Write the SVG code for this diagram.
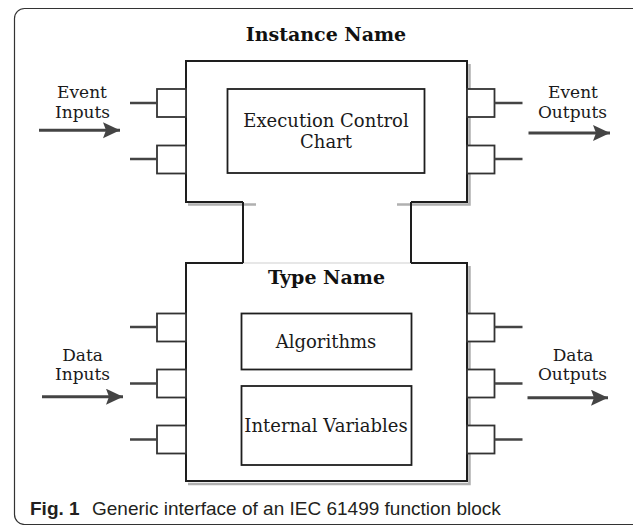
<svg xmlns="http://www.w3.org/2000/svg" width="633" height="525" viewBox="0 0 633 525">
<style>
.frame{fill:none;stroke:#333;stroke-width:1.2}
.blk{fill:none;stroke:#1e1e1e;stroke-width:2;stroke-linejoin:miter}
.shadow{fill:none;stroke:#b0b0b0;stroke-width:2.5}
.faint{fill:none;stroke:#d0d0d0;stroke-width:1.2}
.port{fill:#fff;stroke:#333;stroke-width:1.8}
.stub{fill:none;stroke:#444;stroke-width:2.5}
.box{fill:#fff;stroke:#1e1e1e;stroke-width:1.8}
.arrow{fill:none;stroke:#444;stroke-width:3}
.lbl{font-family:"DejaVu Serif",serif;font-size:17px;fill:#1a1a1a;text-anchor:middle}
.inner{font-family:"DejaVu Serif",serif;font-size:18px;fill:#1a1a1a;text-anchor:middle}
.title{font-family:"DejaVu Serif",serif;font-size:19px;font-weight:bold;fill:#111;text-anchor:middle}
.cap{font-family:"Liberation Sans",Arial,sans-serif;font-size:19px;fill:#231f20}
</style>
<defs>
<marker id="ah" markerUnits="userSpaceOnUse" markerWidth="18" markerHeight="18" refX="17" refY="8" orient="auto">
<path d="M0,0 L17,8 L0,16 L3,8 z" fill="#444"/>
</marker>
</defs>
<rect class="frame" x="14.5" y="8.5" width="640" height="516" rx="10"/>

<g id="instance-block">
<path class="shadow" d="M188,204.5 H256 M397,204.5 H469.5 V64"/>
<path class="blk" d="M243,202 H186 V61 H467 V202 H411"/>
<text class="title" x="326" y="40.5">Instance Name</text>
</g>

<g id="type-block">
<path class="shadow" d="M188,484 H469.5 V266"/>
<path class="faint" d="M243,263 H411"/>
<path class="blk" d="M243,263 H186 V481 H467 V263 H411"/>
<text class="title" x="326.5" y="284">Type Name</text>
</g>

<g id="ecc">
<rect class="box" x="227.5" y="89" width="197" height="84"/>
<text class="inner" x="326" y="126.5">Execution Control</text>
<text class="inner" x="326" y="147.5">Chart</text>
</g>

<g id="algorithms">
<rect class="box" x="241.5" y="313.5" width="170" height="56"/>
<text class="inner" x="326" y="347.5">Algorithms</text>
</g>

<g id="internal-variables">
<rect class="box" x="241.5" y="386" width="170" height="79"/>
<text class="inner" x="326" y="431.5">Internal Variables</text>
</g>

<g id="event-inputs">
<rect class="port" x="157" y="89" width="29" height="28"/>
<rect class="port" x="157" y="145.5" width="29" height="28"/>
<path class="stub" d="M130,103 H157 M130,159 H157"/>
<text class="lbl" x="82" y="98">Event</text>
<text class="lbl" x="82.5" y="117.5">Inputs</text>
</g>

<g id="event-outputs">
<rect class="port" x="467" y="89" width="27.5" height="28"/>
<rect class="port" x="467" y="145.5" width="27.5" height="28"/>
<path class="stub" d="M494.5,103 H522.5 M494.5,159 H522.5"/>
<text class="lbl" x="573" y="98">Event</text>
<text class="lbl" x="572.5" y="117.5">Outputs</text>
</g>

<g id="data-inputs">
<rect class="port" x="157" y="313.5" width="29" height="28"/>
<rect class="port" x="157" y="369.5" width="29" height="28"/>
<rect class="port" x="157" y="425.5" width="29" height="28"/>
<path class="stub" d="M130,327 H157 M130,383.5 H157 M130,439.5 H157"/>
<text class="lbl" x="82.5" y="361">Data</text>
<text class="lbl" x="82.5" y="380">Inputs</text>
</g>

<g id="data-outputs">
<rect class="port" x="467" y="313.5" width="27.5" height="28"/>
<rect class="port" x="467" y="369.5" width="27.5" height="28"/>
<rect class="port" x="467" y="425.5" width="27.5" height="28"/>
<path class="stub" d="M494.5,327 H522.5 M494.5,383.5 H522.5 M494.5,439.5 H522.5"/>
<text class="lbl" x="573" y="361">Data</text>
<text class="lbl" x="572.5" y="380">Outputs</text>
</g>

<g id="connectors">
<path class="blk" d="M243,202 V263 M411,202 V263"/>
<path class="arrow" d="M39,130.3 H120" marker-end="url(#ah)"/>
<path class="arrow" d="M528.5,133 H610" marker-end="url(#ah)"/>
<path class="arrow" d="M42,396.7 H123" marker-end="url(#ah)"/>
<path class="arrow" d="M527.5,397.7 H608" marker-end="url(#ah)"/>
</g>

<g id="caption">
<text class="cap" x="30" y="515" font-weight="bold">Fig. 1</text>
<text class="cap" x="92" y="515">Generic interface of an IEC 61499 function block</text>
</g>
</svg>
